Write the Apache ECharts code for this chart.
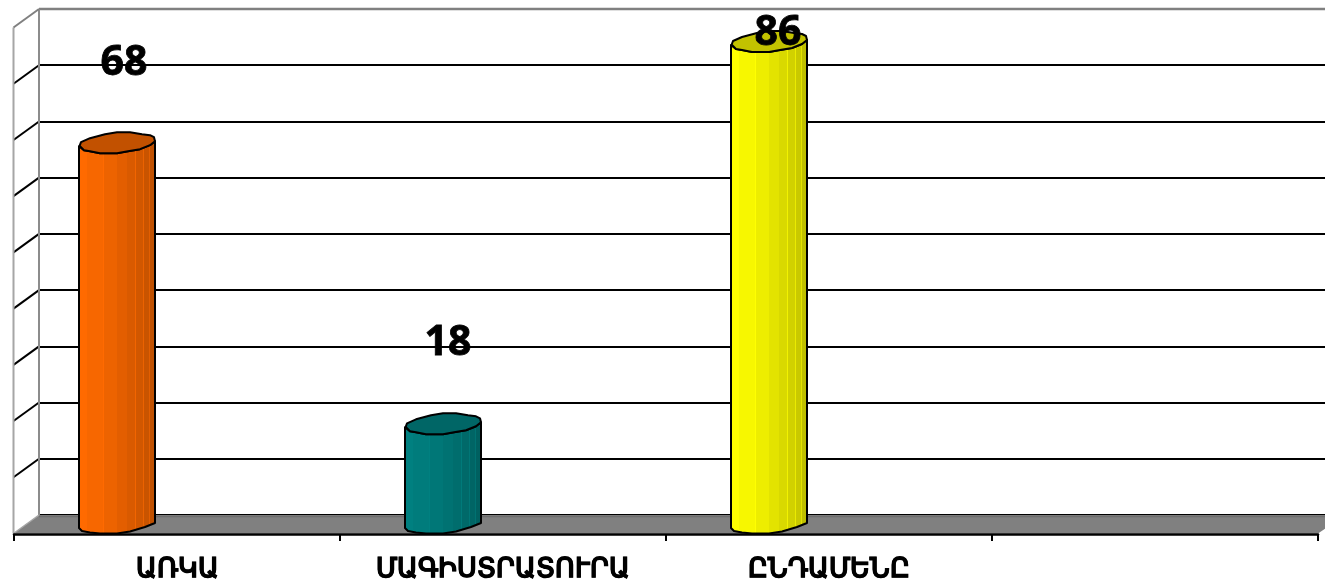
<!DOCTYPE html>
<html><head><meta charset="utf-8">
<style>html,body{margin:0;padding:0;background:#fff}#c{width:1325px;height:582px}</style>
<script src="https://cdn.jsdelivr.net/npm/echarts@6/dist/echarts.min.js"></script>
</head><body><div id="c"></div>
<script>
const categories = ['ԱՌԿԱ', 'ՄԱԳԻՍՏՐԱՏՈՒՐԱ', 'ԸՆԴԱՄԵՆԸ', ''];
const values = [68, 18, 86];
const axisTicks = [0, 10, 20, 30, 40, 50, 60, 70, 80, 90];
const barColors = ['#ff6a00', '#008080', '#ffff00'];
const capColors = ['#c25100', '#006666', '#c2c200'];
const labelLift = [69, 70, -2];
const labelShift = [7, 5, 9];

const depth = { x: -25.5, y: 18.5 };
const capShape = [[-37.5,4],[-36,0],[-27,-4],[-12,-8],[0,-10],[13,-10],[25,-8],[33,-7],[37,-5],[38,-1],[33,3],[23,7],[11,9],[0,11],[-17,11],[-27,9],[-33,8],[-37,4]];
const capFront = [[-38,4],[-33,8],[-27,9],[-17,11],[0,11],[11,9],[23,7],[33,3],[38,-1]];
const baseFront = [[38,-2],[28,2],[13,6.5],[0,8.5],[-17,8.5],[-27,7.5],[-35,6],[-38,3]];
const strips = [[0,1],[.12,.97],[.33,.93],[.5,.89],[.63,.85],[.74,.82],[.84,.79],[.92,.75],[1,.73]];

function shade(hex, f) {
  const n = parseInt(hex.slice(1), 16);
  return 'rgb(' + [(n>>16)&255, (n>>8)&255, n&255].map(c => Math.round(c*f)).join(',') + ')';
}
function stripFill(hex) {
  const stops = [];
  strips.forEach((s, i) => {
    if (i === strips.length - 1) return;
    stops.push({offset: s[0], color: shade(hex, s[1])});
    stops.push({offset: strips[i+1][0] - .006, color: shade(hex, s[1])});
    stops.push({offset: strips[i+1][0] - .006, color: shade(hex, Math.min(1, s[1] + .1))});
    stops.push({offset: strips[i+1][0], color: shade(hex, Math.min(1, s[1] + .1))});
  });
  return {type: 'linear', x: 0, y: 0, x2: 1, y2: 0, colorStops: stops};
}

function renderFrame(params, api) {
  const tl = api.coord([0, 90]), bl = api.coord([0, 0]), br = api.coord([1, 0]);
  const kids = [];
  const line = (x1,y1,x2,y2,stroke,w) => kids.push({type:'line', shape:{x1,y1,x2,y2}, style:{stroke, lineWidth:w}});
  axisTicks.slice(1, -1).forEach(v => {
    const p = api.coord([0, v]);
    line(p[0], p[1], p[0] + depth.x, p[1] + depth.y, '#000', 2);
  });
  kids.push({type:'polygon', shape:{points:[[bl[0],bl[1]],[br[0]+20,bl[1]],[br[0]-7,bl[1]+depth.y],[bl[0]+depth.x,bl[1]+depth.y]]}, style:{fill:'#808080'}});
  line(bl[0], bl[1]+1.5, br[0]+20, bl[1]+1.5, '#6e6e6e', 1.5);
  line(tl[0], tl[1], br[0]+20, tl[1], '#808080', 2.5);
  line(tl[0], tl[1], bl[0], bl[1], '#8c8c8c', 2);
  line(tl[0]+depth.x, tl[1]+depth.y, bl[0]+depth.x, bl[1]+depth.y, '#a6a6a6', 2);
  line(tl[0], tl[1], tl[0]+depth.x, tl[1]+depth.y, '#808080', 2);
  line(bl[0], bl[1], bl[0]+depth.x, bl[1]+depth.y, '#a6a6a6', 1.5);
  return {type:'group', children:kids};
}

function renderBar(params, api) {
  const i = params.dataIndex;
  const band = api.size([1, 0])[0];
  const scale = band / 326;
  const top = api.coord([api.value(0), api.value(1)]);
  const base = api.coord([api.value(0), 0]);
  const cx = top[0] - 60 * scale;
  const topY = top[1] + 9.5, baseY = base[1] + 10;
  const at = (pts, y) => pts.map(p => [cx + p[0]*scale, y + p[1]]);
  const body = at(capFront, topY).concat(at(baseFront, baseY));
  return {type:'group', children:[
    {type:'polygon', shape:{points:body}, style:{fill:stripFill(barColors[i]), stroke:'#000', lineWidth:2, lineJoin:'round'}},
    {type:'polygon', shape:{points:at(capShape, topY)}, style:{fill:capColors[i], stroke:'#000', lineWidth:2, lineJoin:'round'}},
    {type:'text', z2:10, style:{x:cx + labelShift[i]*scale, y:top[1] - labelLift[i], text:String(api.value(1)), fill:'#000',
      stroke:'#000', lineWidth:0.8, font:'bold 41px "Open Sans"', align:'center', verticalAlign:'middle'}}
  ]};
}

const chart = echarts.init(document.getElementById('c'), null, {renderer:'canvas'});
chart.setOption({
  animation:false,
  backgroundColor:'#fff',
  grid:[
    {left:14, right:7, top:9, height:506, containLabel:false, outerBoundsMode:'none'},
    {left:39, right:0, top:9, height:506, containLabel:false, outerBoundsMode:'none'}
  ],
  xAxis:[
    {type:'category', gridIndex:0, data:categories, position:'bottom', offset:19, z:6,
     axisLine:{onZero:false, lineStyle:{color:'#000', width:2.5}},
     axisTick:{show:true, length:7, alignWithLabel:false, lineStyle:{color:'#000', width:2}},
     axisLabel:{interval:0, margin:22, color:'#000', fontFamily:'Noto Sans', fontWeight:'bold', fontSize:27, textBorderColor:'#000', textBorderWidth:0.7, hideOverlap:false},
     splitLine:{show:false}},
    {type:'value', gridIndex:1, min:0, max:1, show:false}
  ],
  yAxis:[
    {type:'value', gridIndex:0, min:0, max:90, interval:10, show:false},
    {type:'value', gridIndex:1, min:0, max:90, interval:10,
     axisLine:{show:false}, axisTick:{show:false}, axisLabel:{show:false},
     splitLine:{show:true, lineStyle:{color:'#000', width:2}}}
  ],
  series:[
    {type:'custom', xAxisIndex:1, yAxisIndex:1, z:1, silent:true, clip:false, renderItem:renderFrame, data:[[0,0]]},
    {type:'custom', xAxisIndex:0, yAxisIndex:0, z:3, silent:true, clip:false, renderItem:renderBar,
     encode:{x:0,y:1}, data:values.map((v,i)=>[i,v])}
  ]
});
</script></body></html>
